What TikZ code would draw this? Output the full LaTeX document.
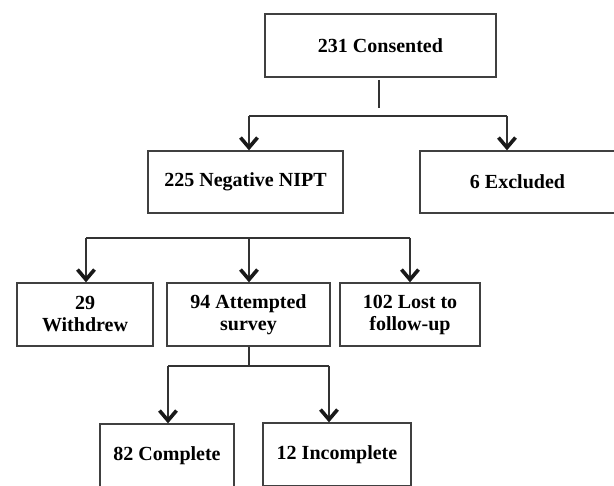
\documentclass[tikz,border=0pt]{standalone}
\usepackage{fontspec}
\setmainfont{Liberation Serif}
\usetikzlibrary{arrows.meta,shadows}
\tikzset{
  box/.style={draw=black!75, line width=1.3pt, fill=white, minimum height=63pt,
    inner sep=0pt, align=center, font=\bfseries\fontsize{20}{22}\selectfont,
    drop shadow={shadow xshift=1.2pt, shadow yshift=-1.5pt, opacity=0.35}},
  link/.style={draw=black!80, line width=2pt},
  arr/.style={link, -{Straight Barb[length=10pt,width=17pt,line width=3.6pt,color=black!90]}}
}
\begin{document}
\begin{tikzpicture}[x=1pt,y=-1pt]
\useasboundingbox (0,0) rectangle (614,486);
\node[box, minimum width=231pt] (1) at (380.5,45.5) {231 Consented};
\node[box, minimum width=195pt, minimum height=62pt] (2) at (245.5,182) {225 Negative NIPT};
\node[box, minimum width=195pt, minimum height=62pt] (3) at (517.5,182) {6 Excluded};
\node[box, minimum width=136pt] (4) at (85,314.5) {29\\Withdrew};
\node[box, minimum width=163pt] (5) at (248.5,314.5) {94 Attempted\\survey};
\node[box, minimum width=140pt] (6) at (410,314.5) {102 Lost to\\follow-up};
\node[box, minimum width=134pt] (7) at (167,455.5) {82 Complete};
\node[box, minimum width=148pt] (8) at (337,454.5) {12 Incomplete};
\coordinate (a) at (379,80);
\coordinate (b) at (379,108);
\coordinate (c) at (249,116);
\coordinate (d) at (507,116);
\coordinate (e) at (86,238);
\coordinate (f) at (410,238);
\coordinate (g) at (249,238);
\coordinate (h) at (168,366);
\coordinate (i) at (329,366);
\draw[link] (a) -- (b);
\draw[link] (c) -- (d);
\draw[arr] (c) -- (c |- 2.north);
\draw[arr] (d) -- (d |- 3.north);
\draw[link] (e) -- (f);
\draw[arr] (e) -- (e |- 4.north);
\draw[arr] (g) -- (g |- 5.north);
\draw[arr] (f) -- (f |- 6.north);
\draw[link] (g |- 5.south) -- (g |- h);
\draw[link] (h) -- (i);
\draw[arr] (h) -- (h |- 7.north);
\draw[arr] (i) -- (i |- 8.north);
\end{tikzpicture}
\end{document}
